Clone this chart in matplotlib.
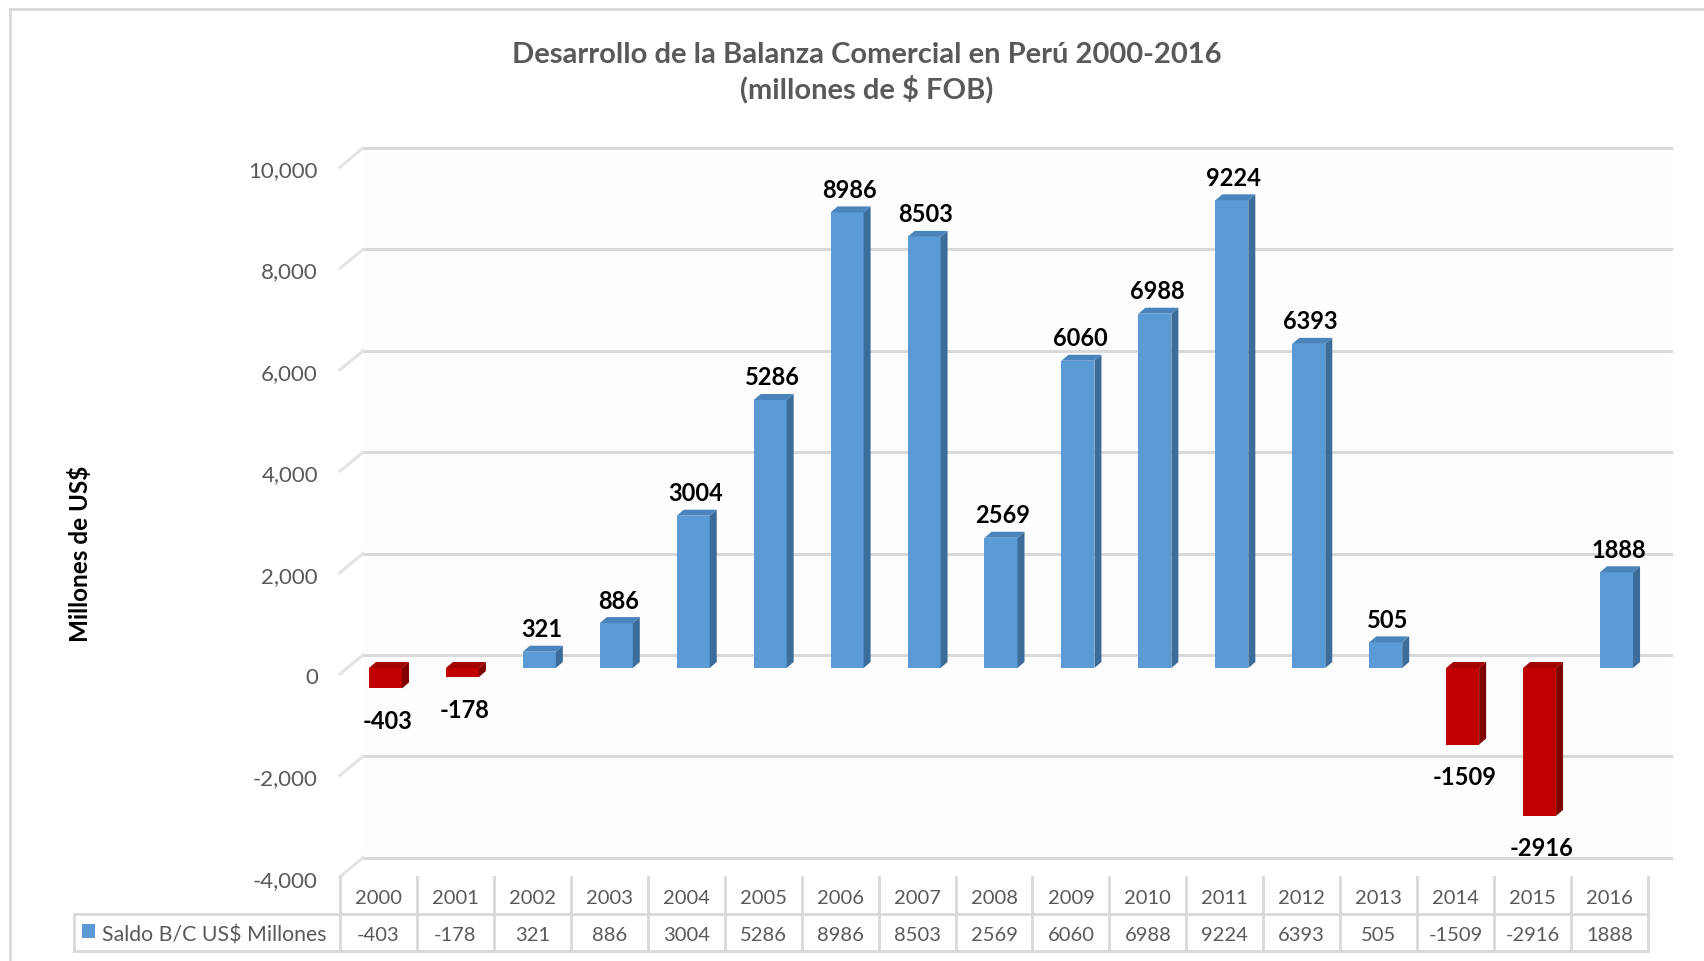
import numpy as np
import matplotlib.pyplot as plt
from matplotlib.patches import Polygon, Rectangle
from matplotlib.lines import Line2D

plt.rcParams['font.family'] = ['Lato', 'DejaVu Sans']

# data
years = ["2000", "2001", "2002", "2003", "2004", "2005", "2006", "2007", "2008",
         "2009", "2010", "2011", "2012", "2013", "2014", "2015", "2016"]
saldo = [-403, -178, 321, 886, 3004, 5286, 8986, 8503, 2569,
         6060, 6988, 9224, 6393, 505, -1509, -2916, 1888]
y_ticks = [-4000, -2000, 0, 2000, 4000, 6000, 8000, 10000]
series_name = "Saldo B/C US$ Millones"
title = "Desarrollo de la Balanza Comercial en Perú 2000-2016\n(millones de $ FOB)"
y_label = "Millones de US$"

W, H = 1704, 962
fig = plt.figure(figsize=(W / 100, H / 100), dpi=100)

# plot area in pixels (front plane for x, bar plane for y)
x_left, x_right = 340, 1648
y_top_px, y_bot_px = 130, 878
px_per_unit_y = 0.0507
y_zero_px = 669
ax = fig.add_axes([x_left / W, 1 - y_bot_px / H, (x_right - x_left) / W, (y_bot_px - y_top_px) / H])
ax.set_xlim(-0.5, len(years) - 0.5)
ax.set_ylim(-(y_bot_px - y_zero_px) / px_per_unit_y, (y_zero_px - y_top_px) / px_per_unit_y)
ax.axis('off')

px_x = (len(years)) / (x_right - x_left)   # data units per pixel (x)
px_y = 1 / px_per_unit_y                   # data units per pixel (y)

# back wall + gridlines (3D look)
gdx, gdy = 23 * px_x, 13 * px_y      # back wall offset from bar plane
fdy = -6 * px_y                       # front plane offset
x0 = -0.5
x1 = len(years) - 0.5
ax.add_patch(Polygon([(x0 + gdx, -4000 + gdy), (x1 + gdx, -4000 + gdy),
                      (x1 + gdx, 10000 + gdy), (x0 + gdx, 10000 + gdy)],
                     closed=True, facecolor="#fdfdfd", edgecolor="none", zorder=0,
                     clip_on=False))
for v in y_ticks:
    ax.add_line(Line2D([x0 + gdx, x1 + gdx], [v + gdy, v + gdy], color="#d9d9d9",
                       lw=2.2, zorder=1, clip_on=False))
    ax.add_line(Line2D([x0, x0 + gdx], [v + fdy, v + gdy], color="#e3e3e3",
                       lw=2.2, zorder=1, clip_on=False))
    ax.text(x0 - 22 * px_x, v + fdy - 3 * px_y, f"{v:,}", ha="right", va="center",
            fontsize=16, color="#595959", clip_on=False)

# 3D bars
bshift = 7 * px_x
bw = 33 * px_x
sdx, sdy = 7 * px_x, 6 * px_y
for i, v in enumerate(saldo):
    neg = v < 0
    front = "#c00000" if neg else "#5b9bd5"
    side = "#7f0000" if neg else "#3c6c9a"
    top_c = "#a30000" if neg else "#4a84bd"
    xl = i + bshift - bw / 2
    xr = xl + bw
    lo, hi = min(v, 0), max(v, 0)
    ax.add_patch(Rectangle((xl, lo), bw, hi - lo, facecolor=front, edgecolor="none", zorder=3))
    ax.add_patch(Polygon([(xr, lo), (xr, hi), (xr + sdx, hi + sdy), (xr + sdx, lo + sdy)],
                         closed=True, facecolor=side, edgecolor="none", zorder=3))
    ax.add_patch(Polygon([(xl, hi), (xr, hi), (xr + sdx, hi + sdy), (xl + sdx, hi + sdy)],
                         closed=True, facecolor=top_c, edgecolor="none", zorder=3))
    lx = i + bshift + 2 * px_x
    if neg:
        ax.text(lx, v - 32 * px_y, str(v), ha="center", va="center", fontsize=17,
                fontweight="bold", color="black", zorder=4)
    else:
        ax.text(lx, v + sdy + 17 * px_y, str(v), ha="center", va="center", fontsize=17,
                fontweight="bold", color="black", zorder=4)

# data table
tcol = "#d9d9d9"
row1_top, row_mid, row_bot = 878, 915, 952
leg_left = 74
cw = (x_right - x_left) / len(years)

def fx(px):
    return px / W

def fy(py):
    return 1 - py / H

fig.add_artist(Line2D([fx(leg_left), fx(x_right)], [fy(row_mid), fy(row_mid)], color=tcol, lw=2))
fig.add_artist(Line2D([fx(leg_left), fx(x_right)], [fy(row_bot), fy(row_bot)], color=tcol, lw=2))
fig.add_artist(Line2D([fx(leg_left), fx(leg_left)], [fy(row_mid), fy(row_bot)], color=tcol, lw=2))
for k in range(len(years) + 1):
    xp = x_left + k * cw
    fig.add_artist(Line2D([fx(xp), fx(xp)], [fy(row1_top), fy(row_bot)], color=tcol, lw=2))
for k, (yr, v) in enumerate(zip(years, saldo)):
    xc = x_left + (k + 0.5) * cw
    fig.text(fx(xc), fy((row1_top + row_mid) / 2 + 2), yr, ha="center", va="center",
             fontsize=14.5, color="#595959")
    fig.text(fx(xc), fy((row_mid + row_bot) / 2 + 2), str(v), ha="center", va="center",
             fontsize=14.5, color="#595959")
fig.add_artist(Rectangle((fx(82), fy(939)), 13 / W, 14 / H, facecolor="#5b9bd5",
                         edgecolor="none", transform=fig.transFigure))
fig.text(fx(102), fy((row_mid + row_bot) / 2 + 2), series_name, ha="left", va="center",
         fontsize=15.3, color="#595959")

# title, y label, frame
fig.text(fx(867), fy(73), title, ha="center", va="center", fontsize=21,
         fontweight="bold", color="#595959", linespacing=1.3)
fig.text(fx(80), fy(554), y_label, ha="center", va="center", rotation=90,
         fontsize=17.5, fontweight="bold", color="black")
fig.add_artist(Line2D([fx(10), fx(10)], [fy(10), fy(H + 5)], color="#d9d9d9", lw=2))
fig.add_artist(Line2D([fx(10), fx(W + 5)], [fy(10), fy(10)], color="#d9d9d9", lw=2))

fig.savefig("out.png", dpi=100)
